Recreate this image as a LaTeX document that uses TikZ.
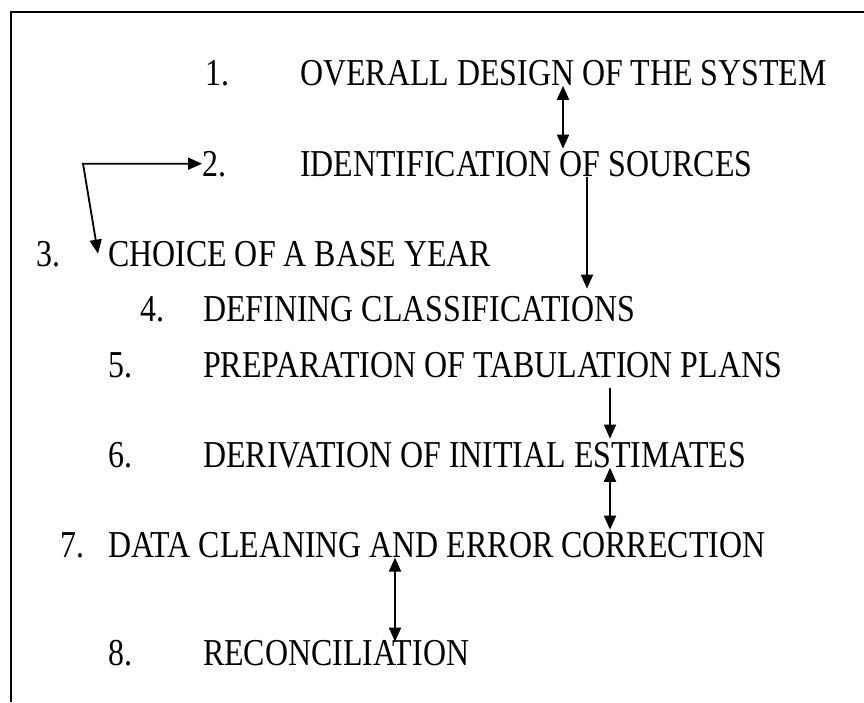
\documentclass[tikz,border=0pt]{standalone}
\usepackage{fontspec}
\setmainfont{Liberation Serif}[FakeStretch=0.84]
\usetikzlibrary{arrows.meta,positioning}

\begin{document}
\begin{tikzpicture}[
    x=1pt, y=-1pt,
    >={Triangle[length=14pt,width=12pt]},
    font=\fontsize{38}{44}\selectfont,
    num/.style={
		anchor=base west,
		inner sep=0pt
	},
	item/.style={
		anchor=base west,
		inner sep=0pt
	},
	link/.style={
		line width=1.8pt
	},
	frame/.style={
		line width=2.2pt
	}
  ]
\useasboundingbox (0,0) rectangle (864,702);

% // frame
\draw [frame] (864,12) -| (11,702);

% // the steps
 \node [num] (n1) at (205,85) {1.};
 \node [item] (t1) at (300,85) {OVERALL DESIGN OF THE SYSTEM};
 \node [num] (n2) at (202,176) {2.};
 \node [item] (t2) at (300,176) {IDENTIFICATION OF SOURCES};
 \node [num] (n3) at (36,266) {3.};
 \node [item] (t3) at (108,266) {CHOICE OF A BASE YEAR};
 \node [num] (n4) at (140,321) {4.};
 \node [item] (t4) at (203,321) {DEFINING CLASSIFICATIONS};
 \node [num] (n5) at (108,377) {5.};
 \node [item] (t5) at (203,377) {PREPARATION OF TABULATION PLANS};
 \node [num] (n6) at (108,467) {6.};
 \node [item] (t6) at (203,467) {DERIVATION OF INITIAL ESTIMATES};
 \node [num] (n7) at (60,557) {7.};
 \node [item] (t7) at (108,557) {DATA CLEANING AND ERROR CORRECTION};
 \node [num] (n8) at (108,665) {8.};
 \node [item] (t8) at (203,665) {RECONCILIATION};

% // arrow columns
\coordinate (xa) at (563,0);
\coordinate (xb) at (587,0);
\coordinate (xc) at (610,0);
\coordinate (xe) at (395,0);
\coordinate (xl) at (83,0);
\coordinate (bend) at (n2.west -| xl);

 \draw [link, <->, shorten >=2pt] (t1.south -| xa) -- (t2.north -| xa);
 \draw [link, ->, shorten >=7pt] (t2.south -| xb) -- (t4.north -| xb);
 \draw [link, ->, shorten <=10pt, shorten >=3pt] (t5.south -| xc) -- (t6.north -| xc);
 \draw [link, <->, shorten >=2pt] (t6.south -| xc) -- (t7.north -| xc);
 \draw [link, <->, shorten >=-2pt] (t7.south -| xe) -- (t8.north -| xe);

% \draw [link, ->] (bend) -- (n2.west);
 \draw [link, <->] (n2.west) -- (bend) -- ([xshift=-10pt]t3.west);

\end{tikzpicture}
\end{document}
